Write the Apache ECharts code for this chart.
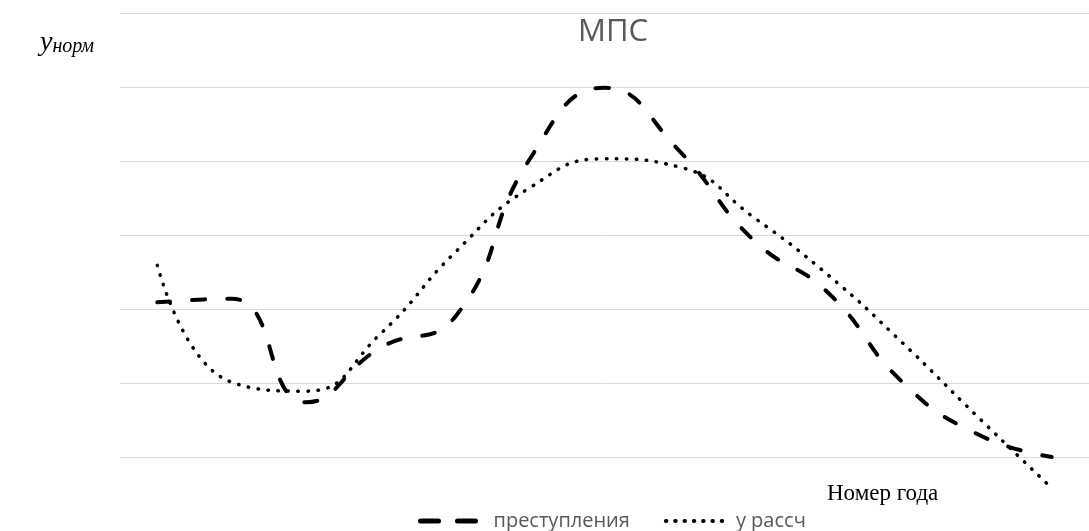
<!DOCTYPE html>
<html>
<head>
<meta charset="utf-8">
<script src="https://cdn.jsdelivr.net/npm/echarts@6/dist/echarts.min.js"></script>
<style>
html,body{margin:0;padding:0;background:#fff;}
#c{width:1089px;height:531px;}
</style>
</head>
<body>
<div id="c"></div>
<script>
var categories = ['1','2','3','4','5','6','7','8','9','10','11','12','13'];
var crimes = [2.09, 2.14, 0.74, 1.48, 1.90, 4.03, 4.99, 4.14, 2.93, 2.22, 1.01, 0.31, 0.0];
var yCalc = [2.59, 1.01, 0.89, 1.67, 2.77, 3.64, 4.03, 3.92, 3.24, 2.46, 1.54, 0.55, -0.42];
var seriesNames = ['преступления', 'у рассч'];

var chart = echarts.init(document.getElementById('c'));
chart.setOption({
  animation: false,
  backgroundColor: '#ffffff',
  title: [
    {text: 'МПС', left: 573, top: 12, textStyle: {fontFamily: 'Open Sans', fontSize: 31, fontWeight: 'normal', color: '#595959'}},
    {text: '{a|y}{b|норм}', left: 35, top: 24, textStyle: {fontWeight: 'normal', rich: {
      a: {fontFamily: 'Liberation Serif', fontStyle: 'italic', fontWeight: 'normal', fontSize: 28, color: '#000'},
      b: {fontFamily: 'Liberation Serif', fontStyle: 'italic', fontWeight: 'normal', fontSize: 20, color: '#000', padding: [8, 0, 0, 0]}
    }}},
    {text: 'Номер года', left: 822, top: 477, textStyle: {fontFamily: 'Liberation Serif', fontSize: 23, fontWeight: 'normal', color: '#000'}}
  ],
  legend: {
    left: 413, top: 506,
    itemWidth: 65, itemHeight: 14, itemGap: 34,
    itemStyle: {opacity: 0},
    data: [
      {name: seriesNames[0], lineStyle: {width: 5, type: [18, 19], cap: 'round', color: '#000'}, textStyle: {padding: [0, 0, 0, 3]}},
      {name: seriesNames[1], lineStyle: {width: 4, type: [0.5, 8.8], cap: 'round', color: '#000'}, textStyle: {padding: [0, 0, 0, 0]}}
    ],
    textStyle: {fontFamily: 'Open Sans', fontSize: 20, color: '#595959'}
  },
  grid: {left: 120, right: -10, top: 13, bottom: 74},
  xAxis: {
    type: 'category', data: categories, boundaryGap: true,
    axisLine: {show: false}, axisTick: {show: false}, axisLabel: {show: false}
  },
  yAxis: {
    type: 'value', min: 0, max: 6, interval: 1,
    axisLine: {show: false}, axisTick: {show: false}, axisLabel: {show: false},
    splitLine: {lineStyle: {color: '#d9d9d9', width: 1}}
  },
  series: [
    {name: seriesNames[0], type: 'line', data: crimes, smooth: 0.5, symbol: 'none', clip: false,
     lineStyle: {color: '#000', width: 4, type: [13, 22], cap: 'round'}, itemStyle: {color: '#000'}},
    {name: seriesNames[1], type: 'line', data: yCalc, smooth: 0.5, symbol: 'none', clip: false,
     lineStyle: {color: '#000', width: 3.5, type: [0.5, 9.5], cap: 'round'}, itemStyle: {color: '#000'}}
  ]
});
</script>
</body>
</html>
